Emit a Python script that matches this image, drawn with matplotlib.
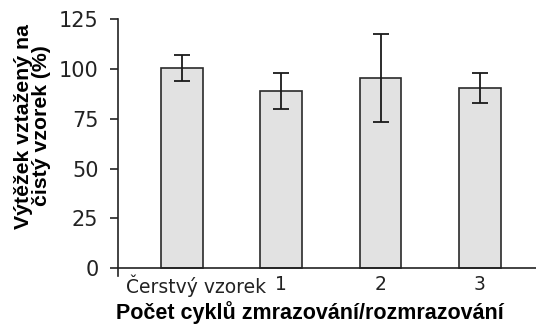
import matplotlib
matplotlib.use("Agg")
import matplotlib.pyplot as plt
import matplotlib.transforms as mtransforms

categories = ["Čerstvý vzorek", "1", "2", "3"]
values = [100.5, 89, 95.5, 90.5]
errors = [6.5, 9, 22, 7.5]
yticks = [0, 25, 50, 75, 100, 125]

fig = plt.figure(figsize=(5.36, 3.25), dpi=100)
ax = fig.add_axes([0.220, 0.151, 0.78, 0.7896])

for s in ["top", "right"]:
    ax.spines[s].set_visible(False)
ax.spines["bottom"].set_position(("data", 0))
for s in ["left", "bottom"]:
    ax.spines[s].set_linewidth(1.2)
    ax.spines[s].set_color("#222222")

x = list(range(len(categories)))
ax.bar(x, values, width=0.42, color="#e2e2e2", edgecolor="#2a2a2a", linewidth=1.2, zorder=2)
ax.errorbar(x, values, yerr=errors, fmt="none", ecolor="#1a1a1a", elinewidth=1.3,
            capsize=6, capthick=1.3, zorder=3)

ax.set_xlim(-0.646, 3.566)
ax.set_ylim(-4, 125)
ax.spines["bottom"].set_bounds(-0.646, 3.566)
ax.set_yticks(yticks)
ax.set_yticklabels([str(v) for v in yticks], fontsize=15, color="#222222", family="DejaVu Sans")
ax.set_xticks(x)
ax.set_xticklabels(categories, fontsize=13.5, color="#222222", family="DejaVu Sans")
ax.tick_params(axis="x", length=0, pad=5)
ax.tick_params(axis="y", length=6, width=1.2, pad=8, direction="out", color="#222222")

lab0 = ax.get_xticklabels()[0]
lab0.set_transform(lab0.get_transform() + mtransforms.ScaledTranslation(14/100, 0, fig.dpi_scale_trans))

fig.text(0.578, 0.002, "Počet cyklů zmrazování/rozmrazování", ha="center", va="bottom",
         fontsize=15.5, fontweight="bold", family="Liberation Sans")
fig.text(0.060, 0.612, "Výtěžek vztažený na\nčistý vzorek (%)", ha="center", va="center",
         rotation=90, fontsize=15.3, fontweight="bold", family="Liberation Sans",
         linespacing=0.92)

fig.savefig("out.png", dpi=100)
